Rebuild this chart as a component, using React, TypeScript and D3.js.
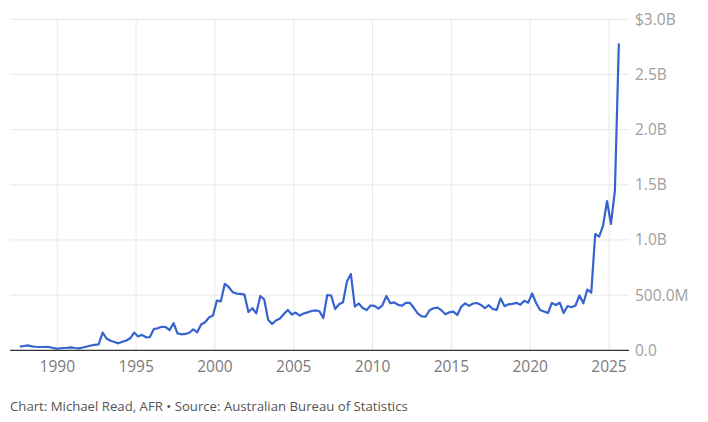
import React from "react";
import * as d3 from "d3";

// Quarterly values (A$ millions), 1987 Q3 → 2025 Q3
const startYear = 1987;
const startQuarter = 3;
const valuesM: number[] = [
  33, 39, // 1987 Q3-Q4
  45, 36, 32, 30, // 1988
  30, 32, 25, 16, // 1989
  16, 21, 23, 27, // 1990
  21, 18, 25, 34, // 1991
  43, 50, 54, 160, // 1992
  107, 86, 75, 63, // 1993
  77, 89, 109, 161, // 1994
  125, 140, 118, 120, // 1995
  193, 199, 213, 211, // 1996
  184, 245, 154, 145, // 1997
  148, 159, 189, 163, // 1998
  234, 254, 297, 315, // 1999
  451, 444, 601, 574, // 2000
  527, 514, 512, 504, // 2001
  347, 381, 335, 492, // 2002
  462, 276, 238, 270, // 2003
  288, 329, 365, 324, // 2004
  342, 315, 333, 344, // 2005
  356, 362, 354, 293, // 2006
  501, 495, 374, 417, // 2007
  435, 624, 691, 395, // 2008
  424, 383, 365, 406, // 2009
  403, 378, 408, 492, // 2010
  426, 434, 411, 404, // 2011
  431, 429, 383, 333, // 2012
  308, 306, 365, 381, // 2013
  386, 361, 327, 344, // 2014
  350, 320, 394, 425, // 2015
  403, 424, 429, 411, // 2016
  382, 409, 374, 367, // 2017
  470, 400, 417, 421, // 2018
  430, 412, 449, 432, // 2019
  515, 429, 365, 352, // 2020
  338, 430, 410, 431, // 2021
  338, 401, 390, 406, // 2022
  497, 426, 551, 522, // 2023
  1054, 1030, 1131, 1353, // 2024
  1145, 1448, 2782, // 2025 Q1-Q3
];

const xTickYears = [1990, 1995, 2000, 2005, 2010, 2015, 2020, 2025];
const yTickValues = [0, 500, 1000, 1500, 2000, 2500, 3000];
const yTickLabels = ["0.0", "500.0M", "1.0B", "1.5B", "2.0B", "2.5B", "$3.0B"];
const footerText = "Chart: Michael Read, AFR \u2022 Source: Australian Bureau of Statistics";

const W = 708;
const H = 422;

export default function App() {
  const points = valuesM.map((v, i) => ({
    t: startYear + (startQuarter - 1) * 0.25 + 0.125 + i * 0.25,
    v,
  }));
  const x = d3.scaleLinear().domain([1990, 2025]).range([57.3, 609]);
  const y = d3.scaleLinear().domain([0, 3000]).range([350.3, 19.3]);
  const line = d3
    .line<{ t: number; v: number }>()
    .x((d) => x(d.t))
    .y((d) => y(d.v));

  const gridLeft = 10;
  const gridRight = 629;
  const font = "'Open Sans', sans-serif";

  return (
    <svg
      width={W}
      height={H}
      style={{ position: "absolute", left: 0, top: 0, background: "#fff" }}
    >
      {yTickValues.map((v) =>
        v === 0 ? null : (
          <line
            key={"h" + v}
            x1={gridLeft}
            x2={gridRight}
            y1={y(v)}
            y2={y(v)}
            stroke="#e8e8e8"
            strokeWidth={1}
          />
        )
      )}
      {xTickYears.map((yr) => (
        <line
          key={"v" + yr}
          x1={x(yr)}
          x2={x(yr)}
          y1={y(3000)}
          y2={y(0)}
          stroke="#e8e8e8"
          strokeWidth={1}
        />
      ))}
      <line
        x1={gridLeft}
        x2={gridRight}
        y1={y(0)}
        y2={y(0)}
        stroke="#333"
        strokeWidth={1.2}
      />
      <path
        d={line(points) || ""}
        fill="none"
        stroke="#3563cf"
        strokeWidth={2.2}
        strokeLinejoin="round"
      />
      {xTickYears.map((yr) => (
        <text
          key={"xl" + yr}
          x={x(yr)}
          y={371.5}
          textAnchor="middle"
          fontFamily={font}
          fontSize={15.5}
          fill="#7a7a7a"
        >
          {yr}
        </text>
      ))}
      {yTickValues.map((v, i) => (
        <text
          key={"yl" + v}
          x={635}
          y={y(v)}
          dy="0.35em"
          fontFamily={font}
          fontSize={15.5}
          fill="#a0a0a0"
        >
          {yTickLabels[i]}
        </text>
      ))}
      <text
        x={10}
        y={411}
        fontFamily={font}
        fontSize={13.2}
        fill="#555"
      >
        {footerText}
      </text>
    </svg>
  );
}
